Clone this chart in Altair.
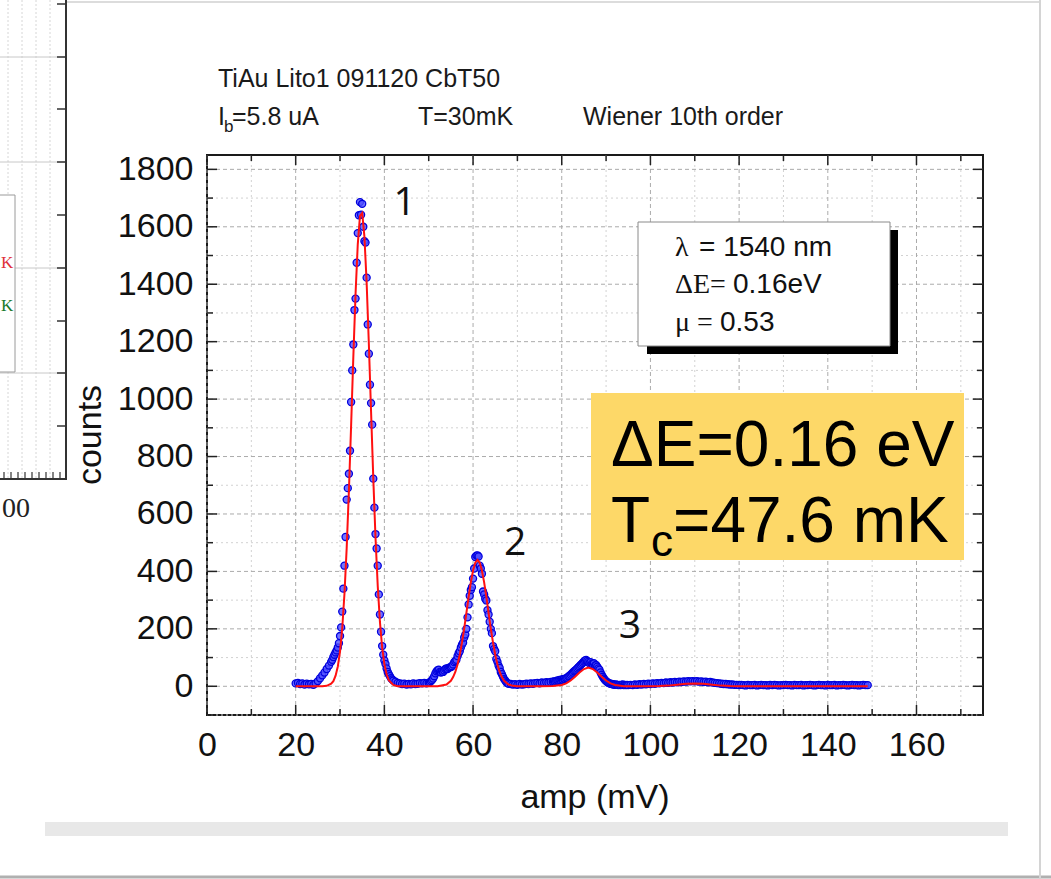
import altair as alt
import pandas as pd
import numpy as np

# ---------------- data ----------------
# measured spectrum, per segment: (first amp in mV, bin step, counts)
seg_a = (20.0, 0.5, [10, 12, 8, 10, 6, 9, 7, 8, 5, 10, 18, 28, 38, 48, 60, 72, 85])
seg_b = (28.25, 0.25, [92, 102, 110, 118, 125, 135, 150, 175, 205, 260,
                       340, 420, 520, 650, 690, 740, 820, 990, 1100, 1190,
                       1310, 1350, 1475, 1578, 1640, 1686, 1642, 1680, 1600, 1550,
                       1545, 1423, 1260, 1158, 1050, 986, 911, 723, 622, 530,
                       480, 420, 320, 250, 190, 140, 110, 90, 78, 62,
                       50, 42, 35, 28, 24, 20])
seg_c = (42.5, 0.5, [16, 12, 10, 8, 9, 6, 8, 7, 10, 8, 9, 11, 10, 12, 10, 12])
seg_d = (50.25, 0.25, [14, 18, 22, 27, 35, 45, 52, 56, 58, 50,
                       48, 52, 50, 55, 60, 62, 60, 64, 66, 67,
                       70, 76, 84, 88, 92, 105, 115, 122, 135, 145,
                       152, 170, 180, 200, 240, 285, 315, 335, 345, 375,
                       410, 450, 455, 456, 452, 420, 410, 392, 330, 320,
                       305, 299, 265, 250, 225, 200, 185, 140, 130, 122,
                       95, 85, 72, 64, 50, 42, 33, 25, 20, 14,
                       11, 9])
seg_e = (68.5, 0.5, [8, 6, 7, 5, 8, 6, 7, 9, 8, 10, 9, 11, 12, 10, 13, 12, 14, 13, 15, 16])
seg_f = (78.25, 0.25, [17, 16, 18, 20, 19, 22, 21, 24, 23, 26,
                       25, 28, 30, 34, 36, 40, 44, 48, 52, 55,
                       58, 62, 66, 70, 74, 78, 82, 86, 90, 92,
                       88, 85, 80, 84, 78, 76, 80, 72, 74, 68,
                       62, 58, 48, 40, 33, 27, 22, 18, 15, 12,
                       10, 9, 8, 7, 6, 5, 6, 5, 4, 5,
                       4, 5, 6, 4, 5, 4, 5, 4])
seg_g = (95.5, 0.5, [5, 4, 6, 5, 7, 6, 8, 7, 9,
                     8, 10, 9, 11, 10, 12, 11, 13, 12, 14,
                     13, 15, 14, 16, 15, 17, 16, 18, 17, 18,
                     17, 18, 16, 17, 15, 16, 14, 15, 13, 12,
                     11, 10, 9, 8, 8, 7, 6, 6, 5, 5,
                     4, 5, 4, 3, 5, 4, 4, 5, 3, 4,
                     5, 4, 4, 3, 5, 4, 5, 4, 3, 4,
                     4, 5, 4, 4, 3, 5, 4, 4, 5, 3,
                     4, 4, 5, 4, 3, 4, 5, 4, 4, 3,
                     5, 4, 4, 5, 3, 4, 4, 5, 4, 3,
                     4, 5, 4, 4, 3, 4, 5, 4, 4])
segments = [seg_a, seg_b, seg_c, seg_d, seg_e, seg_f, seg_g]

# fitted curve (red)
fit_amp = [20, 22, 24, 26, 27, 28, 28.5, 29, 29.5, 30, 30.5, 31, 31.5, 32, 32.5, 33, 33.5,
           34, 34.5, 35, 35.5, 36, 36.5, 37, 37.5, 38, 38.5, 39, 39.5, 40, 40.5, 41, 42,
           43, 45, 50, 52, 54, 55, 55.5, 56, 56.5, 57, 57.5, 58, 58.5, 59, 59.5, 60, 60.5,
           61, 61.5, 62, 62.5, 63, 63.5, 64, 64.5, 65, 65.5, 66, 66.5, 67, 68, 69, 70, 75,
           78, 80, 81, 82, 83, 84, 85, 86, 87, 88, 89, 90, 91, 92, 94, 96, 100, 102, 104,
           106, 108, 110, 112, 114, 116, 118, 120, 130, 140, 149]
fit_counts = [0, 0, 0, 0.3, 1.7, 8.8, 18, 37, 69, 121, 203, 322, 481, 680, 908, 1147, 1366,
              1539, 1638, 1648, 1566, 1406, 1192, 956, 724, 518, 350, 224, 135, 77, 42, 21, 4.6,
              0.5, 0, 0, 0.3, 6, 19, 32, 50, 76, 110, 152, 201, 256, 311, 362, 403, 430,
              440, 430, 403, 362, 311, 256, 201, 152, 110, 76, 50, 32, 19, 6, 1.5, 0.3, 0,
              1, 4.5, 10, 20, 33, 48, 60, 65, 60, 48, 33, 20, 10, 4.5, 0.5, 0, 0, 0.7, 2.3,
              5.2, 8.5, 10, 8.5, 5.2, 2.3, 0.7, 0, 0, 0, 0]

x_major = [0, 20, 40, 60, 80, 100, 120, 140, 160]
x_minor = [10, 30, 50, 70, 90, 110, 130, 150, 170]
y_major = [0, 200, 400, 600, 800, 1000, 1200, 1400, 1600, 1800]
y_minor = [-100, 100, 300, 500, 700, 900, 1100, 1300, 1500, 1700]

peak_labels = ["1", "2", "3"]
peak_label_amp = [44.6, 69.5, 95.4]
peak_label_counts = [1640, 457, 168]

# ---------------- build tables ----------------
amps, cnts = [], []
for start, step, vals in segments:
    amps.extend(list(start + step * np.arange(len(vals))))
    cnts.extend(vals)
df_pts = pd.DataFrame({"amp": amps, "counts": cnts})
df_fit = pd.DataFrame({"amp": fit_amp, "counts": fit_counts})
df_xmaj = pd.DataFrame({"v": x_major})
df_xmin = pd.DataFrame({"v": x_minor})
df_ymaj = pd.DataFrame({"v": y_major})
df_ymin = pd.DataFrame({"v": y_minor})
df_peaks = pd.DataFrame({"amp": peak_label_amp, "counts": peak_label_counts, "t": peak_labels})
one = pd.DataFrame({"k": [0]})

# ---------------- layout ----------------
L, T, W, H = 207, 155, 776, 560
SANS = "Liberation Sans"
SERIF = "Liberation Serif"

xscale = alt.Scale(domain=[0, 175], nice=False, zero=False)
yscale = alt.Scale(domain=[-100, 1850], nice=False, zero=False)
xaxis = alt.Axis(values=x_major, title=None, ticks=False, tickSize=0, domain=False, grid=False,
                 format="d", labelFont=SANS, labelFontSize=34, labelColor="#111111",
                 labelPadding=13, labelFlush=False, labelOverlap=False)
yaxis = alt.Axis(values=y_major, title=None, ticks=False, tickSize=0, domain=False, grid=False,
                 format="d", labelFont=SANS, labelFontSize=34, labelColor="#111111",
                 labelPadding=14, labelFlush=False, labelOverlap=False)


def X(f):
    return alt.X(f, type="quantitative", scale=xscale, axis=xaxis)


def Y(f):
    return alt.Y(f, type="quantitative", scale=yscale, axis=yaxis)


def px(v):
    return alt.value(v - L)


def py(v):
    return alt.value(v - T)


def rule(x1, y1, x2, y2, color, width=1, dash=None):
    kw = dict(color=color, strokeWidth=width)
    if dash:
        kw["strokeDash"] = dash
    return alt.Chart(one).mark_rule(**kw).encode(x=px(x1), y=py(y1), x2=px(x2), y2=py(y2))


def rect(x1, y1, x2, y2, fill, stroke=None, sw=1):
    kw = dict(fill=fill)
    if stroke:
        kw["stroke"] = stroke
        kw["strokeWidth"] = sw
    return alt.Chart(one).mark_rect(**kw).encode(x=px(x1), y=py(y1), x2=px(x2), y2=py(y2))


def text(s, x, y, size, font=SANS, color="#111111", align="left", angle=None):
    kw = dict(text=s, font=font, fontSize=size, color=color, align=align, baseline="alphabetic")
    if angle is not None:
        kw["angle"] = angle
    return alt.Chart(one).mark_text(**kw).encode(x=px(x), y=py(y))


layers = []

# slide / neighbouring-panel decorations
layers.append(rect(45, 822, 1008, 836, "#e8e8e8"))
layers.append(rule(0, 877, 1051, 877, "#b0b0b0", 3))
layers.append(rule(66, 2, 1040, 2, "#dcdcdc", 2))
layers.append(rule(1040, 0, 1040, 879, "#d4d4d4", 2))
for gx in [8, 22, 36, 50]:
    layers.append(rule(gx, 0, gx, 478, "#d6d6d6", 1, [2, 2]))
for gy in [57, 162, 268, 373]:
    layers.append(rule(0, gy, 65, gy, "#c8c8c8", 1))
layers.append(rect(-2, 195, 15, 372, "white", "#9a9a9a", 1))
layers.append(text("K", 1, 268, 17, SERIF, "#e0303a"))
layers.append(text("K", 1, 311, 17, SERIF, "#1a7a2a"))
layers.append(rule(66, 0, 66, 480, "#333333", 2))
layers.append(rule(0, 479, 67, 479, "#333333", 2))
for ty in [4, 57, 109, 162, 215, 268, 321, 373, 426]:
    layers.append(rule(57, ty, 66, ty, "#333333", 1.5))
for tx in range(4, 64, 7):
    layers.append(rule(tx, 478, tx, 472, "#333333", 1.2))
layers.append(text("00", 2, 517, 28, SERIF, "#222222"))

# grid
layers.append(alt.Chart(df_xmin).mark_rule(color="#d2d2d2", strokeWidth=1, strokeDash=[2, 3]).encode(x=X("v")))
layers.append(alt.Chart(df_ymin).mark_rule(color="#d2d2d2", strokeWidth=1, strokeDash=[2, 3]).encode(y=Y("v")))
layers.append(alt.Chart(df_xmaj).mark_rule(color="#ababab", strokeWidth=1, strokeDash=[4, 3]).encode(x=X("v")))
layers.append(alt.Chart(df_ymaj).mark_rule(color="#ababab", strokeWidth=1, strokeDash=[4, 3]).encode(y=Y("v")))

# data
layers.append(alt.Chart(df_pts).mark_point(shape="circle", filled=True, size=50, fill="#5050ff",
                                           stroke="#0000dd", strokeWidth=1.3, fillOpacity=0.8,
                                           strokeOpacity=1, opacity=1)
              .encode(x=X("amp"), y=Y("counts")))
layers.append(alt.Chart(df_fit).mark_line(color="#ff1010", strokeWidth=2)
              .encode(x=X("amp"), y=Y("counts")))

# peak labels
layers.append(alt.Chart(df_peaks).mark_text(font="Open Sans", fontSize=39, color="#111111",
                                            align="center", baseline="alphabetic")
              .encode(x=X("amp"), y=Y("counts"), text="t:N"))

# info box
layers.append(rect(647, 230, 898, 354, "#000000"))
layers.append(rect(638, 222, 890, 346, "white", "#8a8a8a", 1))
layers.append(text("λ", 675, 256, 28, SERIF))
layers.append(text("= 1540 nm", 699, 256, 28, SANS))
layers.append(text("ΔE=", 675, 293, 28, SERIF))
layers.append(text("0.16eV", 733, 293, 28, SANS))
layers.append(text("μ =", 675, 331, 28, SERIF))
layers.append(text("0.53", 720, 331, 28, SANS))

# yellow highlight box
layers.append(rect(591, 393, 964, 560, "#fdd868"))
layers.append(text("ΔE=0.16 eV", 611, 466, 64, SANS, "#000000"))
layers.append(text("T", 611, 542, 64, SANS, "#000000"))
layers.append(text("c", 651, 556, 44, SANS, "#000000"))
layers.append(text("=47.6 mK", 673, 542, 64, SANS, "#000000"))

# inward ticks on all four sides
tick_c = "#222222"
layers.append(alt.Chart(df_xmaj).mark_rule(color=tick_c, strokeWidth=1.5).encode(x=X("v"), y=alt.value(H), y2=alt.value(H - 10)))
layers.append(alt.Chart(df_xmin).mark_rule(color=tick_c, strokeWidth=1.5).encode(x=X("v"), y=alt.value(H), y2=alt.value(H - 6)))
layers.append(alt.Chart(df_xmaj).mark_rule(color=tick_c, strokeWidth=1.5).encode(x=X("v"), y=alt.value(0), y2=alt.value(10)))
layers.append(alt.Chart(df_xmin).mark_rule(color=tick_c, strokeWidth=1.5).encode(x=X("v"), y=alt.value(0), y2=alt.value(6)))
layers.append(alt.Chart(df_ymaj).mark_rule(color=tick_c, strokeWidth=1.5).encode(y=Y("v"), x=alt.value(0), x2=alt.value(10)))
layers.append(alt.Chart(df_ymin).mark_rule(color=tick_c, strokeWidth=1.5).encode(y=Y("v"), x=alt.value(0), x2=alt.value(6)))
layers.append(alt.Chart(df_ymaj).mark_rule(color=tick_c, strokeWidth=1.5).encode(y=Y("v"), x=alt.value(W), x2=alt.value(W - 10)))
layers.append(alt.Chart(df_ymin).mark_rule(color=tick_c, strokeWidth=1.5).encode(y=Y("v"), x=alt.value(W), x2=alt.value(W - 6)))

# header and axis titles
layers.append(text("TiAu Lito1 091120 CbT50", 218, 87, 25, SANS, "#1a1a1a"))
layers.append(text("I", 218, 125, 25, SANS, "#1a1a1a"))
layers.append(text("b", 224, 132, 17, SANS, "#1a1a1a"))
layers.append(text("=5.8 uA", 232, 125, 25, SANS, "#1a1a1a"))
layers.append(text("T=30mK", 418, 125, 25, SANS, "#1a1a1a"))
layers.append(text("Wiener 10th order", 583, 125, 25, SANS, "#1a1a1a"))
layers.append(text("amp (mV)", 595, 808, 34, SANS, "#111111", align="center"))
layers.append(text("counts", 101, 435, 34, SANS, "#111111", align="center", angle=270))

chart = (
    alt.layer(*layers)
    .properties(
        width=W,
        height=H,
        padding={"left": L, "top": T, "right": 1051 - L - W, "bottom": 879 - T - H},
        autosize=alt.AutoSizeParams(type="none"),
        background="white",
    )
    .configure_view(stroke="#1a1a1a", strokeWidth=2)
)

chart.save("out.html", embed_options={"renderer": "svg", "actions": False})
